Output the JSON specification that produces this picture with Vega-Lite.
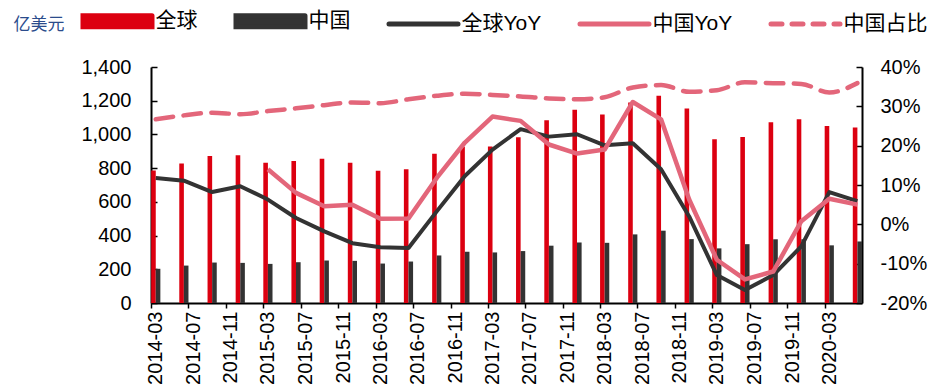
{
  "$schema": "https://vega.github.io/schema/vega-lite/v6.json",
  "width": 711,
  "height": 236,
  "autosize": {"type": "none"},
  "padding": {"left": 151, "top": 67, "right": 70, "bottom": 82},
  "background": "white",
  "config": {
    "font": "Liberation Sans, Noto Sans CJK SC, sans-serif",
    "view": {"stroke": null},
    "axis": {
      "grid": false,
      "domainColor": "black",
      "domainWidth": 2,
      "tickColor": "black",
      "tickWidth": 1.5,
      "labelColor": "black",
      "labelFontSize": 20,
      "labelFlush": false,
      "labelOverlap": false,
      "labelBound": false
    }
  },
  "data": {
    "values": [
      {"date": "2014-03", "global": 786, "china": 203, "globalYoY": 11.8, "chinaYoY": null, "share": 26.7},
      {"date": "2014-06", "global": 828, "china": 222, "globalYoY": 11.1, "chinaYoY": null, "share": 27.7},
      {"date": "2014-09", "global": 872, "china": 240, "globalYoY": 8.2, "chinaYoY": null, "share": 28.4},
      {"date": "2014-12", "global": 876, "china": 238, "globalYoY": 9.7, "chinaYoY": null, "share": 28.0},
      {"date": "2015-03", "global": 832, "china": 232, "globalYoY": 6.3, "chinaYoY": 14.0, "share": 28.8},
      {"date": "2015-06", "global": 842, "china": 242, "globalYoY": 1.6, "chinaYoY": 8.0, "share": 29.5},
      {"date": "2015-09", "global": 856, "china": 252, "globalYoY": -1.8, "chinaYoY": 4.6, "share": 30.3},
      {"date": "2015-12", "global": 832, "china": 250, "globalYoY": -4.8, "chinaYoY": 5.0, "share": 31.0},
      {"date": "2016-03", "global": 785, "china": 234, "globalYoY": -5.8, "chinaYoY": 1.4, "share": 30.8},
      {"date": "2016-06", "global": 794, "china": 246, "globalYoY": -6.0, "chinaYoY": 1.5, "share": 31.8},
      {"date": "2016-09", "global": 886, "china": 282, "globalYoY": 3.3, "chinaYoY": 11.8, "share": 32.7},
      {"date": "2016-12", "global": 927, "china": 304, "globalYoY": 12.3, "chinaYoY": 20.8, "share": 33.2},
      {"date": "2017-03", "global": 929, "china": 300, "globalYoY": 19.0, "chinaYoY": 27.4, "share": 32.9},
      {"date": "2017-06", "global": 983, "china": 308, "globalYoY": 24.2, "chinaYoY": 26.3, "share": 32.5},
      {"date": "2017-09", "global": 1084, "china": 340, "globalYoY": 22.3, "chinaYoY": 20.3, "share": 32.0},
      {"date": "2017-12", "global": 1146, "china": 359, "globalYoY": 22.9, "chinaYoY": 18.0, "share": 31.8},
      {"date": "2018-03", "global": 1118, "china": 357, "globalYoY": 20.1, "chinaYoY": 19.0, "share": 32.3},
      {"date": "2018-06", "global": 1190, "china": 407, "globalYoY": 20.6, "chinaYoY": 31.1, "share": 34.8},
      {"date": "2018-09", "global": 1230, "china": 429, "globalYoY": 14.0, "chinaYoY": 26.7, "share": 35.4},
      {"date": "2018-12", "global": 1154, "china": 379, "globalYoY": 2.0, "chinaYoY": 6.3, "share": 33.7},
      {"date": "2019-03", "global": 971, "china": 324, "globalYoY": -12.9, "chinaYoY": -9.0, "share": 34.1},
      {"date": "2019-06", "global": 985, "china": 349, "globalYoY": -16.7, "chinaYoY": -14.0, "share": 36.1},
      {"date": "2019-09", "global": 1072, "china": 378, "globalYoY": -12.9, "chinaYoY": -12.0, "share": 35.9},
      {"date": "2019-12", "global": 1090, "china": 378, "globalYoY": -5.6, "chinaYoY": 0.8, "share": 35.7},
      {"date": "2020-03", "global": 1050, "china": 342, "globalYoY": 8.2, "chinaYoY": 6.5, "share": 33.5},
      {"date": "2020-06", "global": 1041, "china": 365, "globalYoY": 5.9, "chinaYoY": 5.0, "share": 35.9}
    ]
  },
  "encoding": {
    "x": {
      "field": "date",
      "type": "temporal",
      "timeUnit": "utcyearmonth",
      "bandPosition": 0.5,
      "scale": {
        "type": "utc",
        "domain": [
          {"year": 2014, "month": 3, "date": 1, "utc": true},
          {"year": 2020, "month": 7, "date": 1, "utc": true}
        ]
      },
      "axis": {
        "title": null,
        "labelExpr": "utcFormat(datum.value, '%Y-%m')",
        "values": [
          {"year": 2014, "month": 3, "date": 1, "utc": true},
          {"year": 2014, "month": 7, "date": 1, "utc": true},
          {"year": 2014, "month": 11, "date": 1, "utc": true},
          {"year": 2015, "month": 3, "date": 1, "utc": true},
          {"year": 2015, "month": 7, "date": 1, "utc": true},
          {"year": 2015, "month": 11, "date": 1, "utc": true},
          {"year": 2016, "month": 3, "date": 1, "utc": true},
          {"year": 2016, "month": 7, "date": 1, "utc": true},
          {"year": 2016, "month": 11, "date": 1, "utc": true},
          {"year": 2017, "month": 3, "date": 1, "utc": true},
          {"year": 2017, "month": 7, "date": 1, "utc": true},
          {"year": 2017, "month": 11, "date": 1, "utc": true},
          {"year": 2018, "month": 3, "date": 1, "utc": true},
          {"year": 2018, "month": 7, "date": 1, "utc": true},
          {"year": 2018, "month": 11, "date": 1, "utc": true},
          {"year": 2019, "month": 3, "date": 1, "utc": true},
          {"year": 2019, "month": 7, "date": 1, "utc": true},
          {"year": 2019, "month": 11, "date": 1, "utc": true},
          {"year": 2020, "month": 3, "date": 1, "utc": true}
        ],
        "tickCount": 19,
        "labelAngle": -90,
        "labelAlign": "right",
        "labelBaseline": "middle",
        "labelOffset": 4.7,
        "labelPadding": 3,
        "labelOverlap": false,
        "tickSize": 5
      }
    }
  },
  "layer": [
    {
      "layer": [
        {
          "mark": {"type": "bar", "width": 4.6, "xOffset": -2.3},
          "encoding": {
            "y": {
              "field": "global",
              "type": "quantitative",
              "scale": {"domain": [0, 1400]},
              "axis": {
                "title": "亿美元",
                "titleAngle": 0,
                "titleX": -138,
                "titleY": -43,
                "titleAlign": "left",
                "titleBaseline": "middle",
                "titleFont": "Noto Sans CJK SC",
                "titleFontSize": 17,
                "titleFontWeight": "normal",
                "titleColor": "#2B4C8C",
                "values": [0, 200, 400, 600, 800, 1000, 1200, 1400],
                "tickCount": 8,
                "format": ",.0f",
                "labelOverlap": false,
                "tickSize": -6,
                "labelPadding": 26
              }
            },
            "color": {
              "datum": "全球",
              "type": "nominal",
              "scale": {
                "domain": ["全球", "中国", "全球YoY", "中国YoY", "中国占比"],
                "range": ["#DC0010", "#333333", "#333333", "#E3667A", "#E3667A"]
              },
              "legend": {
                "title": null,
                "orient": "none",
                "legendX": -70.5,
                "legendY": -83,
                "direction": "horizontal",
                "columns": 5,
                "columnPadding": 28,
                "labelFontSize": 21,
                "labelColor": "black",
                "labelOffset": 1,
                "symbolSize": 4761,
                "symbolStrokeWidth": 5,
                "padding": 0,
                "encode": {
                  "symbols": {
                    "update": {
                      "shape": {"signal": "datum.value === '全球' || datum.value === '中国' ? 'M-1,-0.16H1V0.16H-1Z' : 'stroke'"},
                      "fill": {"signal": "datum.value === '全球' ? '#DC0010' : datum.value === '中国' ? '#333333' : 'transparent'"},
                      "stroke": {"signal": "datum.value === '全球YoY' ? '#333333' : (datum.value === '中国YoY' || datum.value === '中国占比') ? '#E3667A' : 'transparent'"},
                      "strokeDash": {"signal": "datum.value === '中国占比' ? [11, 10] : [1, 0]"},
                      "strokeCap": {"value": "round"},
                      "opacity": {"value": 1}
                    }
                  }
                }
              }
            }
          }
        },
        {
          "mark": {"type": "bar", "width": 4.6, "xOffset": 2.3},
          "encoding": {
            "y": {"field": "china", "type": "quantitative"},
            "color": {"datum": "中国", "type": "nominal"}
          }
        }
      ]
    },
    {
      "layer": [
        {
          "mark": {"type": "line", "strokeWidth": 4, "strokeJoin": "round"},
          "encoding": {
            "y": {
              "field": "globalYoY",
              "type": "quantitative",
              "scale": {"domain": [-20, 40]},
              "axis": {
                "orient": "right",
                "title": null,
                "values": [-20, -10, 0, 10, 20, 30, 40],
                "tickCount": 7,
                "labelExpr": "datum.value + '%'",
                "labelOverlap": false,
                "tickSize": -6,
                "labelPadding": 24
              }
            },
            "color": {"datum": "全球YoY", "type": "nominal"}
          }
        },
        {
          "mark": {"type": "line", "strokeWidth": 4.5, "strokeJoin": "round"},
          "encoding": {
            "y": {"field": "chinaYoY", "type": "quantitative"},
            "color": {"datum": "中国YoY", "type": "nominal"}
          }
        },
        {
          "mark": {"type": "line", "strokeWidth": 4.5, "strokeDash": [17.5, 10.5], "strokeCap": "round", "interpolate": "monotone"},
          "encoding": {
            "y": {"field": "share", "type": "quantitative"},
            "color": {"datum": "中国占比", "type": "nominal"}
          }
        }
      ]
    }
  ],
  "resolve": {"scale": {"y": "independent"}}
}
